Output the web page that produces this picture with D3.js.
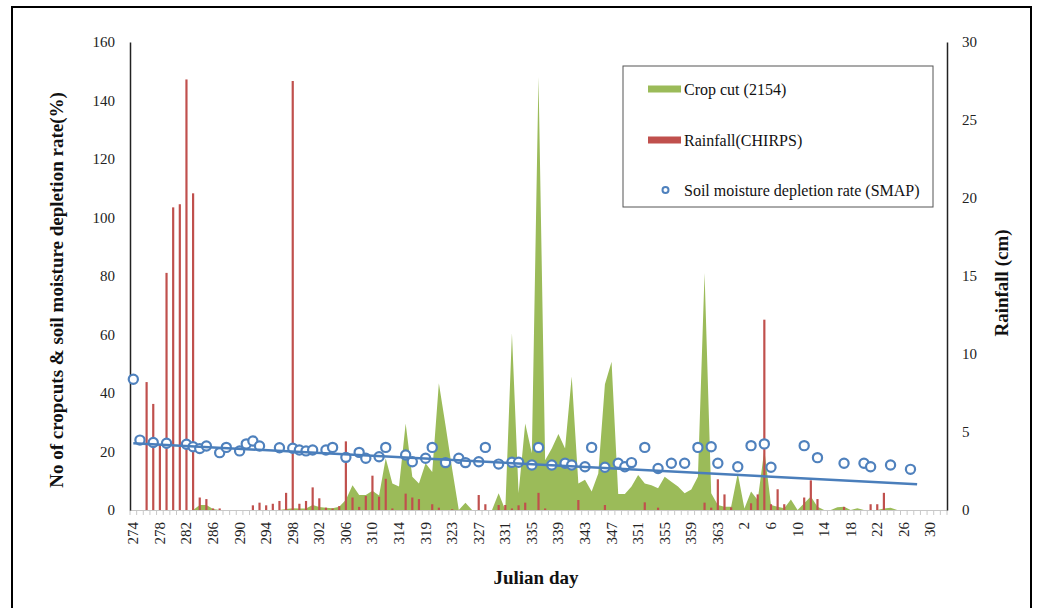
<!DOCTYPE html>
<html>
<head>
<meta charset="utf-8">
<script src="https://cdn.jsdelivr.net/npm/d3@7"></script>
<style>
  html, body { margin: 0; padding: 0; background: #fff; }
  svg { display: block; font-family: "Liberation Serif", "Times New Roman", serif; }
</style>
</head>
<body>
<svg id="chart" width="1041" height="608"></svg>
<script>
// ---------- DATA ----------
const julianDays = [
  274,275,276,277,278,279,280,281,282,283,284,285,286,287,288,289,290,291,292,293,
  294,295,296,297,298,299,300,301,302,303,304,305,306,307,308,309,310,311,312,313,
  314,316,317,318,319,320,321,322,323,324,325,326,327,328,329,330,331,332,333,334,
  335,336,337,338,339,340,341,342,343,344,345,346,347,348,349,350,351,352,353,354,
  355,356,357,358,359,360,361,362,363,364,365,1,2,3,4,5,6,7,8,9,
  10,11,12,13,14,15,16,17,18,19,20,21,22,23,24,25,26,27,28,29,
  30,31,32
];

const cropCut = [
  0,0,0,0,0,0,0,0,0,0, 1.7,1.7,0.3,0,0,0,0,0,0,0,
  0,0,0,0.3,0.6,0.5,0.5,1.7,1.0,0.8, 0.6,1.1,3.5,8.5,5.1,5.1,6.6,5.0,17.7,9.1,
  8.0,29.6,11.4,9.1,16,13,43.3,29,14,0, 2.5,0,0,0,0,5.7,0,60.4,5.7,29.6,
  19.4,148,17,21,26,21,45.6,9.1,10.3,6.3, 12.5,43,50.7,5.5,5.5,8,12,9.1,8.5,7.4,
  11.4,9.7,8,5.7,7,11.4,81,5.7,1.7,1.1, 1.1,12.5,0.5,6.3,3.4,20.5,1.7,1.1,0.6,3.6,
  0,2.3,4.6,1.1,0,0,0.9,1.1,0,0.6, 0,0,0,0.5,0.8,0,0,0,0,0,
  0,0,0
];

const rainfallCm = [
  0,0,8.2,6.8,4.2,15.2,19.4,19.6,27.6,20.3, 0.8,0.7,0.1,0.1,0,0,0,0,0.3,0.47,
  0.3,0.4,0.58,1.1,27.5,0.4,0.58,1.45,0.75,0.15, 0.1,0.25,4.4,0.8,0.2,0.9,2.2,0.85,2.0,0.1,
  0,1.05,0.8,0.7,0,0.37,0.15,0,0.05,0, 0,0,0.96,0.37,0,0.32,0.32,0.1,0.3,0.47,
  0,1.1,0.1,0,0,0,0,0.64,0,0, 0,0.32,0,0,0,0,0,0.49,0,0.15,
  0,0,0,0,0,0,0.47,0.15,1.97,1.0, 0.17,0,0,0.43,1.0,12.2,0.37,1.33,0.37,0,
  0,0.8,1.9,0.7,0,0,0,0.2,0,0, 0,0.37,0.37,1.1,0,0,0,0,0,0,
  0,0,0
];

const soilMoisture = [
  44.7,23.9,null,23.1,null,22.8,null,null,22.5,21.6, 21.0,21.9,null,19.6,21.4,null,20.2,22.6,23.6,21.9,
  null,null,21.3,null,21.1,20.5,20.2,20.5,null,20.5, 21.4,null,18.0,null,19.7,17.7,null,18.2,21.4,null,
  null,18.8,16.5,null,17.7,21.4,null,16.2,null,17.7, 16.2,null,16.5,21.4,null,15.7,null,16.3,16.3,null,
  15.4,21.4,null,15.4,null,16.0,15.4,null,14.8,21.4, null,14.6,null,16.0,14.8,16.2,null,21.4,null,14.2,
  null,16.0,null,16.0,null,21.4,null,21.6,16.0,null, null,14.8,null,22.0,null,22.6,14.6,null,null,null,
  null,22.0,null,17.9,null,null,null,16.0,null,null, 16.0,14.8,null,null,15.4,null,null,13.9,null,null,
  null,null,null
];

// linear trend of soil moisture (start / end values as shown)
const trendDays = [274, 28];
const trendValues = [22.8, 8.8];

const leftTicks = [0,20,40,60,80,100,120,140,160];
const rightTicks = [0,5,10,15,20,25,30];
const labelEvery = 4;

const seriesNames = ["Crop cut (2154)", "Rainfall(CHIRPS)", "Soil moisture depletion rate (SMAP)"];
const colors = { crop: "#9BBB59", rain: "#C0504D", soil: "#4F81BD" };

// ---------- LAYOUT ----------
const svg = d3.select("#chart");
const W = 1041, H = 608;
const plot = { left: 130, right: 947, top: 42, bottom: 510 };

svg.append("rect").attr("width", W).attr("height", H).attr("fill", "#fff");
svg.append("rect").attr("x", 12).attr("y", 7).attr("width", 1019).attr("height", 640)
  .attr("fill", "none").attr("stroke", "#000").attr("stroke-width", 2);

const x = d3.scaleBand().domain(julianDays).range([plot.left, plot.right]).padding(0);
const xc = d => x(d) + x.bandwidth() / 2;
const yL = d3.scaleLinear().domain([0, 160]).range([plot.bottom, plot.top]);
const yR = d3.scaleLinear().domain([0, 30]).range([plot.bottom, plot.top]);

const idx = julianDays.map((d, i) => i);

// ---------- CROP CUT AREA ----------
const area = d3.area()
  .x(i => xc(julianDays[i]))
  .y0(yL(0))
  .y1(i => yL(cropCut[i]));
svg.append("path").datum(idx).attr("d", area).attr("fill", colors.crop);

// ---------- RAINFALL BARS ----------
const barW = x.bandwidth() * 0.33;
svg.append("g").selectAll("rect").data(idx.filter(i => rainfallCm[i] > 0)).join("rect")
  .attr("x", i => xc(julianDays[i]) - barW / 2)
  .attr("width", barW)
  .attr("y", i => yR(rainfallCm[i]))
  .attr("height", i => yR(0) - yR(rainfallCm[i]))
  .attr("fill", colors.rain);

// ---------- AXES ----------
const gx = svg.append("g");
gx.append("line").attr("x1", plot.left).attr("x2", plot.right)
  .attr("y1", plot.bottom + 0.5).attr("y2", plot.bottom + 0.5)
  .attr("stroke", "#c8c8c8").attr("stroke-width", 1.2);
const bounds = julianDays.map(d => x(d)).concat([plot.right]);
gx.selectAll("line.tk").data(bounds).join("line").attr("class", "tk")
  .attr("x1", b => b).attr("x2", b => b)
  .attr("y1", plot.bottom).attr("y2", plot.bottom + 5)
  .attr("stroke", "#c8c8c8").attr("stroke-width", 1);
gx.selectAll("text").data(julianDays.filter((d, i) => i % labelEvery === 0)).join("text")
  .attr("transform", d => `translate(${xc(d) + 5},${plot.bottom + 12}) rotate(-90)`)
  .attr("text-anchor", "end")
  .attr("font-size", 15).attr("fill", "#222")
  .text(d => d);

// left axis
const gl = svg.append("g").attr("transform", `translate(${plot.left},0)`)
  .call(d3.axisLeft(yL).tickValues(leftTicks).tickSize(0).tickPadding(15));
gl.select(".domain").attr("stroke", "#222").attr("stroke-width", 1.5);
gl.selectAll("text").attr("font-size", 15).attr("fill", "#222")
  .attr("font-family", "Liberation Serif, serif");

// right axis
const gr = svg.append("g").attr("transform", `translate(${plot.right},0)`)
  .call(d3.axisRight(yR).tickValues(rightTicks).tickSize(0).tickPadding(15));
gr.select(".domain").attr("stroke", "#222").attr("stroke-width", 1.5);
gr.selectAll("text").attr("font-size", 15).attr("fill", "#222")
  .attr("font-family", "Liberation Serif, serif");

// ---------- SOIL MOISTURE ----------
svg.append("g").selectAll("circle").data(idx.filter(i => soilMoisture[i] != null)).join("circle")
  .attr("cx", i => xc(julianDays[i]))
  .attr("cy", i => yL(soilMoisture[i]))
  .attr("r", 4.6)
  .attr("fill", "#fff")
  .attr("stroke", colors.soil)
  .attr("stroke-width", 2.2);

svg.append("path")
  .datum(trendDays.map((d, k) => ({ d, v: trendValues[k] })))
  .attr("d", d3.line().x(p => xc(p.d)).y(p => yL(p.v)))
  .attr("fill", "none").attr("stroke", "#4A7EBB").attr("stroke-width", 2.5);

// ---------- TITLES ----------
svg.append("text")
  .attr("transform", `translate(63,290) rotate(-90)`)
  .attr("text-anchor", "middle").attr("font-size", 19).attr("font-weight", "bold").attr("fill", "#111")
  .text("No of cropcuts & soil moisture depletion rate(%)");
svg.append("text")
  .attr("transform", `translate(1008,283) rotate(-90)`)
  .attr("text-anchor", "middle").attr("font-size", 19).attr("font-weight", "bold").attr("fill", "#111")
  .text("Rainfall (cm)");
svg.append("text")
  .attr("x", 536).attr("y", 584)
  .attr("text-anchor", "middle").attr("font-size", 19).attr("font-weight", "bold").attr("fill", "#111")
  .text("Julian day");

// ---------- LEGEND ----------
const lg = svg.append("g");
lg.append("rect").attr("x", 623).attr("y", 66).attr("width", 310).attr("height", 141)
  .attr("fill", "#fff").attr("stroke", "#555").attr("stroke-width", 1);
const legendRows = [
  { name: seriesNames[0], type: "swatch", color: colors.crop, y: 89 },
  { name: seriesNames[1], type: "swatch", color: colors.rain, y: 140 },
  { name: seriesNames[2], type: "marker", color: colors.soil, y: 190 }
];
legendRows.forEach(r => {
  if (r.type === "swatch") {
    lg.append("rect").attr("x", 648).attr("y", r.y - 3.5).attr("width", 33).attr("height", 7).attr("fill", r.color);
  } else {
    lg.append("circle").attr("cx", 665.5).attr("cy", r.y).attr("r", 3).attr("fill", "#fff")
      .attr("stroke", r.color).attr("stroke-width", 2);
  }
  lg.append("text").attr("x", 684).attr("y", r.y).attr("dy", "0.35em")
    .attr("font-size", 16).attr("fill", "#111").text(r.name);
});
</script>
</body>
</html>
